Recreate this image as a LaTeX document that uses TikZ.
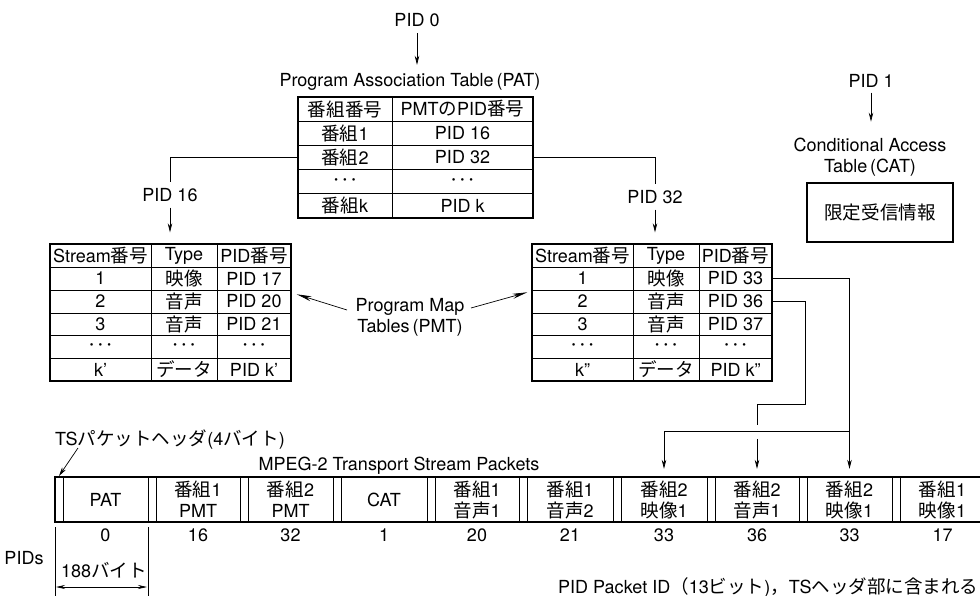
\documentclass[tikz,border=0pt]{standalone}
\usepackage{fontspec}
\setmainfont{TeX Gyre Heros}
\newfontfamily\jpf{Noto Sans CJK JP}[Scale=1.03]
\usetikzlibrary{arrows.meta,calc}
\newcommand\tdots{{\fontsize{10.5}{10.5}\selectfont\textbullet\hspace{5pt}\textbullet\hspace{5pt}\textbullet}}
\begin{document}
\begin{tikzpicture}[x=1pt,y=-1pt,
  font=\fontsize{18}{21}\selectfont,
  every node/.style={inner sep=0pt},
  lbl/.style={text height=13pt, text depth=3pt},
  conn/.style={line width=0.7pt},
  arr/.style={conn,-{Stealth[length=9pt,width=4.5pt]}},
  bigarr/.style={conn,-{Stealth[length=15pt,width=5pt]}},
  tbl/.style={draw, line width=1.4pt},
  grid/.style={line width=0.6pt},
  pkt/.style={minimum width=84pt, minimum height=45pt, align=center},
]
\useasboundingbox (0,0) rectangle (980,596);

% ---------- PAT ----------
\node[lbl] (pid0) at (417,22) {PID 0};
\node[lbl] (pattitle) at (410,82) {Program Association Table\,(PAT)};
\draw[arr, shorten <=3pt, shorten >=9pt] (pid0.south) -- (pid0.south |- pattitle.north);
\node[tbl, minimum width=235pt, minimum height=121pt] (pat) at (415.5,157.5) {};
\draw[grid] (392,97) -- (392,218);
\foreach \yy in {121,145,169,193} \draw[grid] (298,\yy) -- (533,\yy);
\node (pat1a) at (345,109) {\jpf 番組番号};
\node (pat1b) at (462.5,109) {PMT{\jpf の}PID{\jpf 番号}};
\node (pat2a) at (345,133) {{\jpf 番組}1};
\node (pat2b) at (462.5,133) {PID 16};
\node (pat3a) at (345,157) {{\jpf 番組}2};
\node (pat3b) at (462.5,157) {PID 32};
\node (pat4a) at (345,181) {\tdots};
\node (pat4b) at (462.5,181) {\tdots};
\node (pat5a) at (345,205.5) {{\jpf 番組}k};
\node (pat5b) at (462.5,205.5) {PID k};

% ---------- PMT labels ----------
\node[lbl] (pid16) at (170,197) {PID 16};
\node[lbl] (pid32) at (655,199) {PID 32};
\draw[conn, shorten >=6.5pt] (pat.west) -| (pid16.north);
\draw[conn, shorten >=6.5pt] (pat.east) -| (pid32.north);

% ---------- left PMT ----------
\node[tbl, minimum width=241pt, minimum height=137pt] (pmtL) at (170.5,312.5) {};
\draw[grid] (151,244) -- (151,381) (217,244) -- (217,381);
\foreach \yy in {267,290,313,335,358} \draw[grid] (50,\yy) -- (291,\yy);
\foreach \yy/\a/\b/\c [count=\i] in {
  255.5/Stream{\jpf 番号}/Type/PID{\jpf 番号},
  278.5/1/{\jpf 映像}/PID 17,
  301.5/2/{\jpf 音声}/PID 20,
  324/3/{\jpf 音声}/PID 21,
  346.5/\tdots/\tdots/\tdots,
  369.5/k'/{\jpf データ}/PID k'}
{\node (L\i-a) at (100.5,\yy) {\a};
 \node (L\i-b) at (184,\yy) {\b};
 \node (L\i-c) at (254,\yy) {\c};}
\draw[arr, shorten <=2.5pt, shorten >=11pt] (pid16.south) -- (pid16.south |- pmtL.north);

% ---------- right PMT ----------
\node[tbl, minimum width=240pt, minimum height=137pt] (pmtR) at (652,312.5) {};
\draw[grid] (633,244) -- (633,381) (699,244) -- (699,381);
\foreach \yy in {267,290,313,335,358} \draw[grid] (532,\yy) -- (772,\yy);
\foreach \yy/\a/\b/\c [count=\i] in {
  255.5/Stream{\jpf 番号}/Type/PID{\jpf 番号},
  278.5/1/{\jpf 映像}/PID 33,
  301.5/2/{\jpf 音声}/PID 36,
  324/3/{\jpf 音声}/PID 37,
  346.5/\tdots/\tdots/\tdots,
  369.5/k''/{\jpf データ}/PID k''}
{\node (R\i-a) at (582.5,\yy) {\a};
 \node (R\i-b) at (666,\yy) {\b};
 \node (R\i-c) at (735.5,\yy) {\c};}
\draw[arr, shorten <=2.5pt, shorten >=11pt] (pid32.south) -- (pid32.south |- pmtR.north);

% ---------- PMT caption ----------
\node[align=center] (pmtlbl) at (410,317) {Program Map\\Tables\,(PMT)};
\coordinate (pmA) at (347,310);
\coordinate (pmB) at (471,308);
\draw[bigarr] (pmA) -- ($(pmtL.north east)+(5,51)$);
\draw[bigarr] (pmB) -- ($(pmtR.north west)+(-4,49)$);

% ---------- CAT ----------
\node[lbl] (pid1) at (871,83) {PID 1};
\node[align=center] (cattitle) at (870,157) {Conditional Access\\Table\,(CAT)};
\draw[arr, shorten <=1.5pt, shorten >=16pt] (pid1.south) -- (pid1.south |- cattitle.north);
\node[tbl, minimum width=146pt, minimum height=59pt] (cat) at (880,212.5) {\jpf 限定受信情報};

% ---------- packet row ----------
\node[lbl] (tslbl) at (170,440) {TS{\jpf パケットヘッダ}(4{\jpf バイト})};
\coordinate (tsA) at (78,448);
\coordinate (tsB) at (59,476);
\draw[arr] (tsA) -- (tsB);
\node[lbl] (mpeg) at (399,465) {MPEG-2 Transport Stream Packets};

\draw[line width=1.6pt] (980,477) -- (55,477) -- (55,522) -- (980,522);
\draw[grid] (63,477) -- (63,522);
\foreach \b in {148,240,333,427,519,613,707,799,892}
  \draw[grid] (\b,477) -- (\b,522) (\b+8,477) -- (\b+8,522);

\node[pkt] (pk1) at (105.5,499.5) {PAT};
\node[pkt] (pk2) at (198,499.5) {{\jpf 番組}1\\PMT};
\node[pkt] (pk3) at (290.5,499.5) {{\jpf 番組}2\\PMT};
\node[pkt] (pk4) at (384,499.5) {CAT};
\node[pkt] (pk5) at (477,499.5) {{\jpf 番組}1\\{\jpf 音声}1};
\node[pkt] (pk6) at (570,499.5) {{\jpf 番組}1\\{\jpf 音声}2};
\node[pkt] (pk7) at (664,499.5) {{\jpf 番組}2\\{\jpf 映像}1};
\node[pkt] (pk8) at (757,499.5) {{\jpf 番組}2\\{\jpf 音声}1};
\node[pkt] (pk9) at (849.5,499.5) {{\jpf 番組}2\\{\jpf 映像}1};
\node[pkt] (pk10) at (942.5,499.5) {{\jpf 番組}1\\{\jpf 映像}1};

\foreach \xx/\v [count=\i] in {105.5/0,198/16,290.5/32,384/1,477/20,570/21,664/33,757/36,849.5/33,942.5/17}
  \node (n\i) at (\xx,535) {\v};

\node (pidslbl) at (24,558) {PIDs};
\draw[grid] (55,527) -- (55,596);
\draw[grid] (148,527) -- (148,596);
\node[lbl] (bytes) at (104,572) {188{\jpf バイト}};
\coordinate (bA) at (56,587);
\coordinate (bB) at (147,587);
\draw[conn, {Stealth[length=9pt,width=4pt]}-{Stealth[length=9pt,width=4pt]}] (bA) -- (bB);

\node[lbl, anchor=west] (note) at (558,588) {PID Packet ID{\jpf （}13{\jpf ビット})\hspace{0pt}{\jpf ，}TS{\jpf ヘッダ部に含まれる}};

% ---------- PMT to packets ----------
\path (pk9.north) ++(0,-45) coordinate (j33);
\draw[arr, shorten >=8pt] (pmtR.east |- R2-c) -| (pk9.north);
\draw[arr, shorten >=8pt] (j33) -| (pk7.north);
\coordinate (j36a) at (805,404);
\path (pk8.north) ++(0,-52) coordinate (j36c);
\path (pk8.north) ++(0,-38) coordinate (j36d);
\draw[conn] (pmtR.east |- R3-c) -| (j36a) -| (j36c);
\draw[arr, shorten >=8pt] (j36d) -- (pk8.north);
\end{tikzpicture}
\end{document}
